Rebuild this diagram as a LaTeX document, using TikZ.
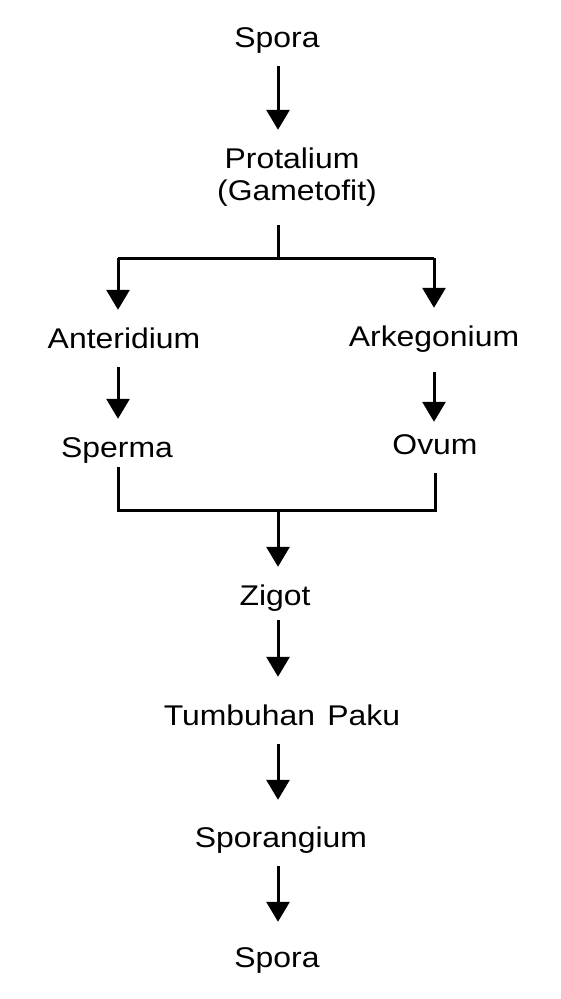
\documentclass[tikz,border=0pt]{standalone}
\usepackage{fontspec}
\setmainfont{Liberation Sans}[FakeStretch=1.12]
\usetikzlibrary{arrows.meta}
\begin{document}
\begin{tikzpicture}[x=1pt,y=-1pt,
  lbl/.style={anchor=base,inner sep=0pt,text height=38pt,text depth=19pt,
    font=\fontsize{28.5}{32}\selectfont},
  ln/.style={line width=3pt,line join=miter},
  arr/.style={ln,-{Triangle[width=23pt,length=20pt]}}]
\fill[white] (0,0) rectangle (561,999);
\useasboundingbox (0,0) rectangle (561,999);
% nodes
\node[lbl] (spora1) at (277,47) {Spora};
\node[lbl] (prot) at (292,168) {Protalium};
\node[lbl] (gam) at (297,200) {(Gametofit)};
\node[lbl] (anter) at (124,348) {Anteridium};
\node[lbl] (arke) at (434,346) {Arkegonium};
\node[lbl] (sperma) at (117,457) {Sperma};
\node[lbl] (ovum) at (435,454) {Ovum};
\node[lbl] (zigot) at (275,605) {Zigot};
\node[lbl] (tumb) at (282,725) {Tumbuhan \hspace{0.12em}Paku};
\node[lbl] (spor) at (281,847) {Sporangium};
\node[lbl] (spora2) at (277,967) {Spora};
% junction coordinates
\coordinate (fork) at (278,258);
\coordinate (forkL) at (118,258);
\coordinate (forkR) at (434,258);
\coordinate (join) at (278,510);
\coordinate (joinL) at (118,510);
\coordinate (joinR) at (435,510);
% connectors
\draw[arr] (spora1.south -| fork) -- (prot.north -| fork);
\draw[ln] ([yshift=-6pt]gam.south -| fork) -- (fork);
\draw[ln] (forkL) -- (forkR);
\draw[arr] (forkL) -- (forkL |- anter.north);
\draw[arr] (forkR) -- (forkR |- arke.north);
\draw[arr] (anter.south -| forkL) -- (sperma.north -| forkL);
\draw[arr] ([yshift=-7pt]arke.south -| forkR) -- ([yshift=-6pt]ovum.north -| forkR);
\draw[ln] ([yshift=9pt]sperma.south -| joinL) -- (joinL) -- (joinR) -- (ovum.south -| joinR);
\draw[arr] (join) -- (zigot.north -| join);
\draw[arr] ([yshift=4pt]zigot.south -| join) -- ([yshift=10pt]tumb.north -| join);
\draw[arr] (tumb.south -| join) -- ([yshift=9pt]spor.north -| join);
\draw[arr] (spor.south -| join) -- ([yshift=7pt]spora2.north -| join);
\end{tikzpicture}
\end{document}
